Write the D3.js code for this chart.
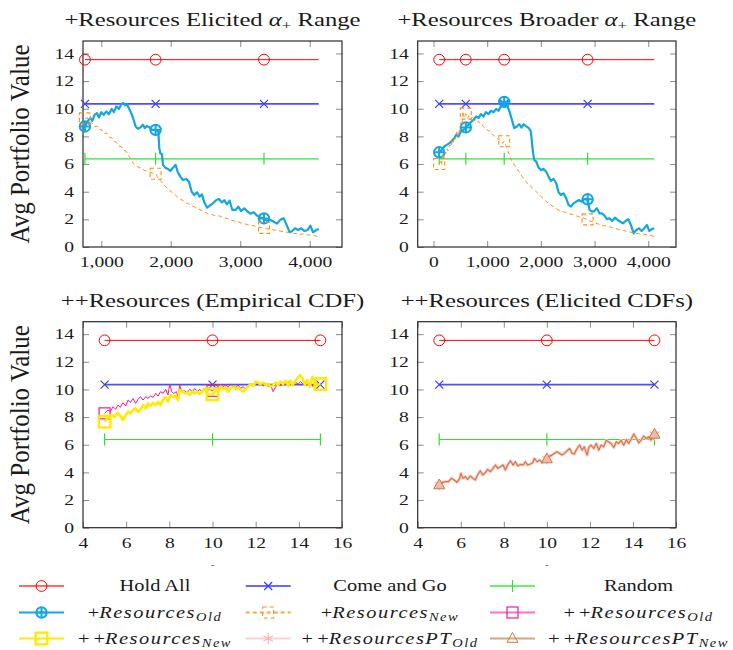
<!DOCTYPE html>
<html>
<head>
<meta charset="utf-8">
<script src="https://cdn.jsdelivr.net/npm/d3@7"></script>
<style>
  body { margin: 0; background: #fff; }
  svg { display: block; }
  text { font-family: "Liberation Serif", "Times New Roman", serif; fill: #1a1a1a; }
</style>
</head>
<body>
<svg id="chart" width="733" height="650"></svg>
<script>
// ---------- data ----------
const yTicks = [0, 2, 4, 6, 8, 10, 12, 14];
const tlXTicks = [1000, 2000, 3000, 4000];
const trXTicks = [0, 1000, 2000, 3000, 4000];
const bottomXTicks = [4, 6, 8, 10, 12, 14, 16];

// constant reference strategies
const holdAllValue = 13.55;
const comeAndGoValue = 10.35;
const randomValue = 6.38;

// x positions where marks are drawn, and the extent of each panel's data
const tlMarkX = [765, 1782, 3342];
const tlSpan = [765, 4130];
const trMarkX = [106, 602, 1317, 2870];
const trSpan = [106, 4112];
const bottomMarkX = [5, 10, 15];
const bottomSpan = [5, 15];

// +Resources, elicited alpha range
const resOldTL = [[765,8.72],[808,9.13],[842,9.32],[870,9.13],[904,9.56],[938,9.68],[966,9.37],[1000,9.75],[1034,9.56],[1072,9.8],[1110,9.61],[1149,9.99],[1182,9.75],[1216,10.17],[1254,9.99],[1288,10.33],[1317,10.41],[1346,10.24],[1370,10.33],[1398,10.04],[1432,9.68],[1466,9.2],[1494,8.72],[1528,8.55],[1562,8.64],[1600,8.84],[1629,8.6],[1658,8.76],[1696,8.64],[1734,8.47],[1782,8.47],[1821,8.35],[1835,7.15],[1850,6.78],[1874,6.71],[1888,5.94],[1922,5.74],[1960,5.65],[1994,5.5],[2032,5.74],[2070,5.94],[2099,5.45],[2138,5.09],[2176,4.85],[2224,4.92],[2262,4.73],[2301,4.0],[2339,3.76],[2378,3.96],[2416,3.64],[2450,3.81],[2483,3.23],[2522,2.85],[2560,2.99],[2608,3.16],[2656,3.4],[2694,3.47],[2733,3.23],[2771,3.38],[2810,3.09],[2848,3.35],[2886,2.68],[2934,2.68],[2973,2.92],[3011,2.6],[3059,2.8],[3107,2.56],[3146,2.41],[3194,2.51],[3242,2.27],[3290,2.12],[3342,2.07],[3386,1.88],[3434,1.95],[3482,1.83],[3530,1.69],[3578,1.98],[3626,2.07],[3664,1.64],[3712,1.06],[3750,1.16],[3789,1.35],[3832,1.23],[3880,1.35],[3923,1.16],[3971,1.23],[4010,1.54],[4048,1.06],[4096,1.23],[4130,1.3]];
const resNewTL = [[765,9.3],[800,9.35],[835,9.05],[870,8.95],[905,8.7],[940,8.75],[975,8.5],[1010,8.45],[1045,8.2],[1080,8.25],[1115,7.95],[1150,7.9],[1185,7.65],[1220,7.55],[1255,7.3],[1290,7.25],[1325,7.0],[1360,6.9],[1395,6.6],[1430,6.3],[1465,6.0],[1500,5.9],[1540,5.75],[1580,5.7],[1620,5.55],[1660,5.5],[1700,5.4],[1740,5.35],[1782,5.3],[1820,4.95],[1860,4.75],[1900,4.5],[1940,4.3],[1980,4.1],[2020,3.95],[2060,3.8],[2100,3.6],[2140,3.45],[2180,3.35],[2220,3.2],[2260,3.1],[2300,3.0],[2340,2.9],[2380,2.8],[2420,2.7],[2460,2.6],[2500,2.5],[2540,2.4],[2580,2.35],[2620,2.3],[2660,2.25],[2700,2.25],[2740,2.15],[2780,2.1],[2820,2.05],[2860,1.95],[2900,1.9],[2940,1.85],[2980,1.8],[3020,1.72],[3060,1.68],[3100,1.62],[3140,1.58],[3180,1.55],[3220,1.5],[3260,1.45],[3300,1.4],[3342,1.38],[3380,1.32],[3420,1.3],[3460,1.25],[3500,1.22],[3540,1.2],[3580,1.15],[3620,1.12],[3660,1.08],[3700,1.05],[3740,1.0],[3780,0.98],[3820,0.97],[3860,0.92],[3900,0.95],[3940,0.9],[3980,0.88],[4020,0.85],[4060,0.82],[4100,0.78],[4130,0.73]];

// +Resources, broader alpha range
const resOldTR = [[106,6.85],[155,7.03],[199,7.27],[248,7.39],[298,7.51],[342,7.68],[385,7.87],[422,8.11],[466,7.99],[509,8.35],[559,8.47],[602,8.65],[652,8.84],[696,9.03],[745,9.2],[795,9.44],[838,9.32],[882,9.61],[932,9.44],[975,9.75],[1025,9.61],[1068,9.85],[1118,9.75],[1168,9.99],[1211,9.85],[1255,10.17],[1317,10.5],[1366,10.29],[1416,9.8],[1460,9.2],[1503,8.6],[1553,8.72],[1596,8.88],[1640,8.64],[1677,8.88],[1727,8.72],[1776,8.6],[1814,8.35],[1851,6.9],[1876,6.3],[1913,6.18],[1957,5.74],[2000,5.57],[2050,5.65],[2099,5.45],[2143,5.09],[2186,4.78],[2236,4.92],[2286,4.61],[2329,3.96],[2373,3.76],[2422,3.88],[2472,3.52],[2515,3.04],[2559,2.92],[2609,3.16],[2658,3.28],[2708,3.4],[2758,3.28],[2807,3.47],[2870,3.45],[2907,2.68],[2950,2.56],[2994,2.6],[3043,2.8],[3093,2.43],[3137,2.43],[3180,2.31],[3230,2.02],[3280,2.07],[3329,1.88],[3379,2.12],[3428,1.95],[3478,1.83],[3528,1.71],[3577,1.88],[3627,2.02],[3677,1.59],[3727,0.99],[3776,1.23],[3826,1.35],[3876,1.16],[3925,1.35],[3975,1.59],[4018,1.16],[4068,1.3],[4112,1.35]];
const resNewTR = [[106,6.0],[130,6.2],[150,5.95],[170,6.6],[190,6.3],[210,6.9],[230,6.75],[250,7.1],[270,6.95],[290,7.3],[310,7.4],[330,7.25],[350,7.7],[370,7.55],[390,8.0],[410,7.8],[430,8.3],[450,8.0],[470,8.5],[490,8.35],[510,9.0],[530,8.85],[550,9.8],[575,9.35],[602,9.65],[630,9.3],[660,9.5],[690,9.2],[720,9.4],[750,9.1],[780,9.2],[810,9.0],[840,9.1],[870,8.9],[900,8.9],[930,8.7],[960,8.6],[990,8.5],[1020,8.4],[1050,8.4],[1080,8.2],[1110,8.1],[1140,8.0],[1170,7.9],[1200,7.8],[1230,7.8],[1260,7.7],[1290,7.5],[1317,7.65],[1340,7.4],[1360,7.2],[1390,6.9],[1420,6.6],[1450,6.3],[1480,6.1],[1510,5.9],[1540,5.8],[1580,5.5],[1620,5.3],[1660,5.05],[1700,4.85],[1740,4.65],[1780,4.5],[1820,4.35],[1860,4.2],[1900,4.05],[1940,3.9],[1980,3.75],[2020,3.6],[2060,3.45],[2100,3.3],[2140,3.15],[2180,3.05],[2220,2.95],[2260,2.85],[2300,2.75],[2340,2.65],[2380,2.6],[2420,2.55],[2460,2.5],[2500,2.45],[2540,2.4],[2580,2.35],[2620,2.3],[2660,2.25],[2700,2.2],[2740,2.15],[2780,2.1],[2820,2.05],[2870,2.0],[2900,1.9],[2940,1.85],[2980,1.78],[3020,1.72],[3060,1.68],[3100,1.62],[3140,1.58],[3180,1.55],[3220,1.5],[3260,1.47],[3300,1.43],[3340,1.4],[3380,1.35],[3420,1.3],[3460,1.27],[3500,1.24],[3540,1.2],[3580,1.15],[3620,1.12],[3660,1.08],[3700,1.05],[3740,1.0],[3780,0.98],[3820,0.97],[3860,0.93],[3900,0.95],[3940,0.9],[3980,0.88],[4020,0.85],[4060,0.82],[4112,0.75]];

// ++Resources, empirical CDF
const plusOldBL = [[5,8.27],[5.16,8.51],[5.27,8.39],[5.39,8.75],[5.51,8.56],[5.62,8.87],[5.73,8.7],[5.85,9.04],[5.98,8.8],[6.09,9.23],[6.19,9.04],[6.32,9.35],[6.44,8.99],[6.55,9.28],[6.66,9.48],[6.78,9.23],[6.91,9.48],[7.01,9.35],[7.12,9.52],[7.25,9.43],[7.37,9.72],[7.48,9.52],[7.59,9.84],[7.71,9.72],[7.83,10.01],[7.94,9.6],[8.02,10.39],[8.11,9.84],[8.2,9.72],[8.33,9.84],[8.4,9.48],[8.48,10.32],[8.57,9.84],[8.71,9.91],[8.82,9.77],[8.95,10.01],[9.07,9.84],[9.18,10.08],[9.29,9.84],[9.41,10.01],[9.53,9.77],[9.64,10.15],[9.75,9.91],[9.87,10.01],[10,9.9],[10.15,10.15],[10.26,10.08],[10.37,10.39],[10.49,10.2],[10.62,10.32],[10.72,10.15],[10.83,10.39],[10.96,10.25],[11.08,10.15],[11.19,10.32],[11.3,10.08],[11.42,10.2],[11.54,9.96],[11.65,10.25],[11.76,10.44],[11.88,10.32],[12.01,10.49],[12.11,10.39],[12.22,10.44],[12.35,10.25],[12.47,10.39],[12.58,10.2],[12.69,10.32],[12.81,9.84],[12.93,10.2],[13.04,10.39],[13.15,10.25],[13.27,10.49],[13.4,10.39],[13.51,10.56],[13.61,10.44],[13.74,10.32],[13.86,10.49],[13.97,10.39],[14.08,10.56],[14.2,10.39],[14.32,10.49],[14.43,10.32],[14.54,10.49],[14.66,10.2],[14.79,10.56],[14.9,10.39],[15,10.39]];
const plusNewBL = [[5,7.67],[5.16,7.98],[5.31,8.15],[5.47,8.03],[5.62,8.32],[5.73,8.08],[5.85,7.79],[5.98,8.15],[6.09,8.39],[6.19,8.27],[6.32,8.51],[6.44,8.63],[6.55,8.39],[6.66,8.51],[6.78,8.87],[6.91,8.63],[7.01,8.99],[7.12,8.8],[7.25,9.04],[7.37,8.87],[7.48,9.11],[7.59,8.87],[7.71,9.28],[7.83,9.43],[7.94,9.11],[8.05,9.6],[8.17,9.48],[8.3,9.52],[8.4,9.23],[8.48,9.96],[8.61,9.84],[8.71,9.72],[8.82,9.77],[8.95,9.6],[9.07,9.84],[9.18,9.72],[9.29,9.84],[9.41,9.67],[9.53,9.84],[9.64,10.08],[9.75,9.72],[9.87,9.6],[10,9.65],[10.15,9.91],[10.26,9.84],[10.37,10.2],[10.49,10.01],[10.62,10.15],[10.72,9.84],[10.83,10.08],[10.96,10.2],[11.08,10.01],[11.19,10.15],[11.3,9.96],[11.42,9.84],[11.54,10.08],[11.65,10.2],[11.76,10.39],[11.88,10.25],[12.01,10.56],[12.11,10.49],[12.22,10.39],[12.35,10.49],[12.47,10.32],[12.58,10.39],[12.69,10.2],[12.81,10.32],[12.93,10.49],[13.04,10.32],[13.15,10.56],[13.27,10.39],[13.4,10.63],[13.51,10.25],[13.61,10.63],[13.71,10.32],[13.81,10.56],[13.92,10.8],[14.05,11.04],[14.17,10.8],[14.28,10.32],[14.39,10.68],[14.51,10.2],[14.63,10.92],[14.74,10.63],[14.85,10.32],[15,10.39]];

// ++Resources, elicited CDFs (prospect-theory agents)
const ptOldBR = [[5,3.09],[5.12,3.26],[5.28,3.33],[5.43,3.33],[5.56,3.57],[5.7,3.45],[5.82,3.28],[5.95,3.57],[6.01,3.93],[6.1,3.57],[6.21,3.69],[6.32,3.5],[6.44,3.74],[6.57,3.57],[6.68,3.45],[6.78,3.81],[6.91,4.12],[7.02,3.81],[7.14,3.98],[7.25,4.22],[7.38,4.05],[7.5,4.29],[7.61,4.53],[7.72,4.29],[7.84,4.41],[7.97,4.53],[8.07,4.17],[8.18,4.53],[8.31,4.84],[8.43,4.53],[8.54,4.77],[8.65,4.46],[8.77,4.58],[8.9,4.53],[9.0,4.77],[9.11,4.53],[9.24,4.6],[9.34,4.7],[9.42,5.01],[9.55,4.77],[9.67,4.89],[9.78,4.7],[9.89,4.89],[10,4.97],[10.13,5.18],[10.24,5.25],[10.35,5.37],[10.47,5.49],[10.6,5.37],[10.7,5.25],[10.81,5.37],[10.94,5.56],[11.06,5.73],[11.17,5.37],[11.28,5.33],[11.4,5.73],[11.53,5.97],[11.64,5.61],[11.74,5.85],[11.87,5.25],[11.96,5.85],[12.05,5.97],[12.18,5.73],[12.3,6.09],[12.41,5.61],[12.52,5.97],[12.64,5.85],[12.76,6.33],[12.87,6.21],[12.98,6.09],[13.11,5.8],[13.23,6.21],[13.34,6.09],[13.45,6.33],[13.57,5.97],[13.7,6.38],[13.8,6.09],[13.91,6.38],[14.04,6.77],[14.16,6.45],[14.27,6.14],[14.38,6.33],[14.5,6.62],[14.63,6.45],[14.73,6.57],[14.84,6.33],[15,6.75]];
const ptNewBR = [[5,3.09],[5.12,3.26],[5.28,3.33],[5.43,3.33],[5.56,3.57],[5.7,3.45],[5.82,3.28],[5.95,3.57],[6.01,3.93],[6.1,3.57],[6.21,3.69],[6.32,3.5],[6.44,3.74],[6.57,3.57],[6.68,3.45],[6.78,3.81],[6.91,4.12],[7.02,3.81],[7.14,3.98],[7.25,4.22],[7.38,4.05],[7.5,4.29],[7.61,4.53],[7.72,4.29],[7.84,4.41],[7.97,4.53],[8.07,4.17],[8.18,4.53],[8.31,4.84],[8.43,4.53],[8.54,4.77],[8.65,4.46],[8.77,4.58],[8.9,4.53],[9.0,4.77],[9.11,4.53],[9.24,4.6],[9.34,4.7],[9.42,5.01],[9.55,4.77],[9.67,4.89],[9.78,4.7],[9.89,4.89],[10,4.97],[10.13,5.18],[10.24,5.25],[10.35,5.37],[10.47,5.49],[10.6,5.37],[10.7,5.25],[10.81,5.37],[10.94,5.56],[11.06,5.73],[11.17,5.37],[11.28,5.33],[11.4,5.73],[11.53,5.97],[11.64,5.61],[11.74,5.85],[11.87,5.25],[11.96,5.85],[12.05,5.97],[12.18,5.73],[12.3,6.09],[12.41,5.61],[12.52,5.97],[12.64,5.85],[12.76,6.33],[12.87,6.21],[12.98,6.09],[13.11,5.8],[13.23,6.21],[13.34,6.09],[13.45,6.33],[13.57,5.97],[13.7,6.38],[13.8,6.09],[13.91,6.38],[14.04,6.77],[14.16,6.45],[14.27,6.14],[14.38,6.33],[14.5,6.62],[14.63,6.45],[14.73,6.57],[14.84,6.33],[15,6.75]];

const legendLabels = [
  [["Hold All", ""]],
  [["Come and Go", ""]],
  [["Random", ""]],
  [["+", ""], ["Resources", "i"], ["Old", "sub"]],
  [["+", ""], ["Resources", "i"], ["New", "sub"]],
  [["+\u2009+", ""], ["Resources", "i"], ["Old", "sub"]],
  [["+\u2009+", ""], ["Resources", "i"], ["New", "sub"]],
  [["+\u2009+", ""], ["ResourcesPT", "i"], ["Old", "sub"]],
  [["+\u2009+", ""], ["ResourcesPT", "i"], ["New", "sub"]]
];

// ---------- styles ----------
const styles = {
  holdAll:   { color: "#ff0000", width: 1,   mark: "circle",   legendLine: "#ff6a6a" },
  comeAndGo: { color: "#3b3bff", width: 1.7, mark: "times",    legendLine: "#6a6aff", opacity: 0.9 },
  random:    { color: "#2fe22f", width: 1.2, mark: "vbar",     legendLine: "#6af06a" },
  resOld:    { color: "#12a6e2", width: 2.2, mark: "oplus",    legendLine: "#12a6e2" },
  resNew:    { color: "#ff8c1a", width: 1,   mark: "square",   legendLine: "#ffa64d", dash: "4,3" },
  plusOld:   { color: "#ea1f96", width: 1,   mark: "square",   legendLine: "#ff70c0" },
  plusNew:   { color: "#ffea00", width: 2.6, mark: "bigsquare",legendLine: "#ffea00" },
  ptOld:     { color: "#ffc4c4", width: 3,   mark: "asterisk", legendLine: "#ffd0d0" },
  ptNew:     { color: "#c97b3b", width: 1.1, mark: "triangle", legendLine: "#d9a677" }
};
const legendOrder = ["holdAll", "comeAndGo", "random", "resOld", "resNew", "plusOld", "plusNew", "ptOld", "ptNew"];

// ---------- layout ----------
const yDomain = [0, 14.9];
const panels = [
  { left: 83,    top: 41,    width: 259, height: 206, xDomain: [737, 4465], xTicks: tlXTicks, fmt: d3.format(","),
    title: [["+Resources Elicited ", ""], ["\u03b1", "i"], ["+", "sub"], [" Range", ""]], ylabel: true,
    markX: tlMarkX, span: tlSpan, series: [["resOld", resOldTL], ["resNew", resNewTL]] },
  { left: 417.7, top: 41,    width: 258.3, height: 206, xDomain: [-294, 4516], xTicks: trXTicks, fmt: d3.format(","),
    title: [["+Resources Broader ", ""], ["\u03b1", "i"], ["+", "sub"], [" Range", ""]], ylabel: false,
    markX: trMarkX, span: trSpan, series: [["resOld", resOldTR], ["resNew", resNewTR]] },
  { left: 83,    top: 321.7, width: 259, height: 206, xDomain: [4, 16], xTicks: bottomXTicks, fmt: d3.format("d"),
    title: [["++Resources (Empirical CDF)", ""]], ylabel: true,
    markX: bottomMarkX, span: bottomSpan, series: [["plusOld", plusOldBL], ["plusNew", plusNewBL]], dash: true },
  { left: 417.7, top: 321.7, width: 258.3, height: 206, xDomain: [4, 16], xTicks: bottomXTicks, fmt: d3.format("d"),
    title: [["++Resources (Elicited CDFs)", ""]], ylabel: false,
    markX: bottomMarkX, span: bottomSpan, series: [["ptOld", ptOldBR], ["ptNew", ptNewBR]], dash: true }
];

const svg = d3.select("#chart");

// ---------- marks ----------
function drawMark(g, type, cx, cy, st) {
  const m = g.append("g").attr("transform", `translate(${cx},${cy})`)
    .attr("fill", "none").attr("stroke", st.color).attr("stroke-width", 1);
  switch (type) {
    case "circle":
      m.append("circle").attr("r", 5.4); break;
    case "times":
      m.append("path").attr("d", "M-4,-4L4,4M-4,4L4,-4").attr("stroke-width", 1.2); break;
    case "vbar":
      m.append("path").attr("d", "M0,-6V6").attr("stroke-width", 1.2); break;
    case "oplus":
      m.attr("stroke-width", 2);
      m.append("circle").attr("r", 5.2);
      m.append("path").attr("d", "M-5.2,0H5.2M0,-5.2V5.2"); break;
    case "square":
      if (st.dash) m.attr("stroke-dasharray", "4,3").attr("stroke-width", 1.1);
      else m.attr("stroke-width", 1.2);
      m.append("rect").attr("x", -5.5).attr("y", -5.5).attr("width", 11).attr("height", 11); break;
    case "bigsquare":
      m.attr("stroke-width", 2.4);
      m.append("rect").attr("x", -5.8).attr("y", -5.8).attr("width", 11.6).attr("height", 11.6); break;
    case "asterisk":
      m.attr("stroke", "#ffb3b3").attr("stroke-width", 1.2);
      m.append("path").attr("d", "M0,-5.5V5.5M-4.8,-2.75L4.8,2.75M-4.8,2.75L4.8,-2.75"); break;
    case "triangle":
      m.append("path").attr("d", "M0,-6L5.5,3.8L-5.5,3.8Z").attr("fill", st.fill || "none"); break;
  }
}

// text made of plain, italic and subscript runs
function styledText(parent, parts, subSize, subDy, italicSpacing) {
  let shift = 0;
  parts.forEach(([s, kind]) => {
    const ts = parent.append("tspan").text(s);
    if (kind === "i") ts.attr("font-style", "italic").attr("letter-spacing", italicSpacing || null);
    if (kind === "sub") {
      ts.attr("font-size", subSize).attr("dy", subDy - shift);
      if (s !== "+") ts.attr("font-style", "italic").attr("letter-spacing", italicSpacing || null);
      shift = subDy;
    } else if (shift) {
      ts.attr("dy", -shift); shift = 0;
    }
  });
}

const TICK_SX = 1.35, TICK_SIZE = 14.5;

panels.forEach(p => {
  const x = d3.scaleLinear().domain(p.xDomain).range([p.left, p.left + p.width]);
  const y = d3.scaleLinear().domain(yDomain).range([p.top + p.height, p.top]);
  const g = svg.append("g");

  // inward ticks on all four sides
  const axes = [
    [d3.axisBottom(x).tickValues(p.xTicks).tickFormat(p.fmt), `translate(0,${p.top + p.height})`, "bottom"],
    [d3.axisTop(x).tickValues(p.xTicks).tickFormat(""), `translate(0,${p.top})`, "top"],
    [d3.axisLeft(y).tickValues(yTicks).tickFormat(d3.format("d")), `translate(${p.left},0)`, "left"],
    [d3.axisRight(y).tickValues(yTicks).tickFormat(""), `translate(${p.left + p.width},0)`, "right"]
  ];
  axes.forEach(([ax, tr, side]) => {
    const a = g.append("g").attr("transform", tr)
      .call(ax.tickSize(-6).tickPadding(side === "bottom" ? 10 : 9));
    a.select(".domain").remove();
    a.selectAll(".tick line").attr("stroke", "#8c8c8c").attr("stroke-width", 1);
    a.selectAll(".tick text")
      .attr("font-family", '"Liberation Serif", serif')
      .attr("font-size", TICK_SIZE).attr("fill", "#1a1a1a");
    if (side === "bottom") a.selectAll(".tick text").attr("transform", `scale(${TICK_SX},1)`);
    if (side === "left") a.selectAll(".tick text").attr("x", -9 / TICK_SX).attr("transform", `scale(${TICK_SX},1)`);
  });

  // frame
  g.append("rect").attr("x", p.left).attr("y", p.top).attr("width", p.width).attr("height", p.height)
    .attr("fill", "none").attr("stroke", "#2b2b2b").attr("stroke-width", 1.2);

  // title
  const tg = g.append("g").attr("transform", `translate(${p.left + p.width / 2},${p.top - 15}) scale(1.3,1)`);
  styledText(tg.append("text").attr("text-anchor", "middle").attr("font-size", 19), p.title, 13, 4);

  // y-axis label
  if (p.ylabel) {
    svg.append("g").attr("transform", `translate(22,${p.top + p.height / 2}) scale(1.1,1) rotate(-90)`)
      .append("text").attr("text-anchor", "middle").attr("font-size", 25).attr("y", "0.24em")
      .text("Avg Portfolio Value");
  }
  if (p.dash) {
    g.append("text").attr("x", x(10)).attr("y", p.top + p.height + 40).attr("text-anchor", "middle")
      .attr("font-size", 9).attr("fill", "#777").text("-");
  }

  const line = d3.line().x(d => x(d[0])).y(d => y(d[1]));
  const markSet = new Set(p.markX);

  // reference strategies
  [["holdAll", holdAllValue], ["comeAndGo", comeAndGoValue], ["random", randomValue]].forEach(([key, v]) => {
    const st = styles[key];
    const pts = p.span.map(xv => [xv, v]);
    g.append("path").attr("d", line(pts)).attr("fill", "none").attr("stroke", st.color)
      .attr("stroke-width", st.width).attr("stroke-opacity", st.opacity || 1);
    p.markX.forEach(xv => drawMark(g, st.mark, x(xv), y(v), st));
  });

  // resource-based strategies
  p.series.forEach(([key, data]) => {
    const st = styles[key];
    g.append("path").attr("d", line(data)).attr("fill", "none").attr("stroke", st.color)
      .attr("stroke-width", st.width).attr("stroke-linejoin", "round")
      .attr("stroke-dasharray", st.dash || null);
    data.filter(d => markSet.has(d[0])).forEach(d => {
      const mst = key === "ptNew" ? Object.assign({}, st, { fill: "#f4b8b0" }) : st;
      drawMark(g, st.mark, x(d[0]), y(d[1]), mst);
    });
  });
});

// ---------- legend ----------
const legendRowY = [586, 612.5, 638.5];
const legendLineX = [[19, 64], [245.7, 290.7], [490, 535]];
const legendTextX = [155, 390, 638.5];
const lg = svg.append("g");
legendOrder.forEach((key, i) => {
  const col = i % 3, row = Math.floor(i / 3);
  const st = styles[key];
  const yy = legendRowY[row];
  const [x0, x1] = legendLineX[col];
  lg.append("line").attr("x1", x0).attr("x2", x1).attr("y1", yy).attr("y2", yy)
    .attr("stroke", st.legendLine).attr("stroke-width", 2)
    .attr("stroke-dasharray", st.dash || null);
  drawMark(lg, st.mark, (x0 + x1) / 2, yy, st);
  const tg = lg.append("g").attr("transform", `translate(${legendTextX[col]},${yy + 5}) scale(1.16,1)`);
  styledText(tg.append("text").attr("text-anchor", "middle").attr("font-size", 17.6), legendLabels[i], 12.5, 3, 1.3);
});
</script>
</body>
</html>
